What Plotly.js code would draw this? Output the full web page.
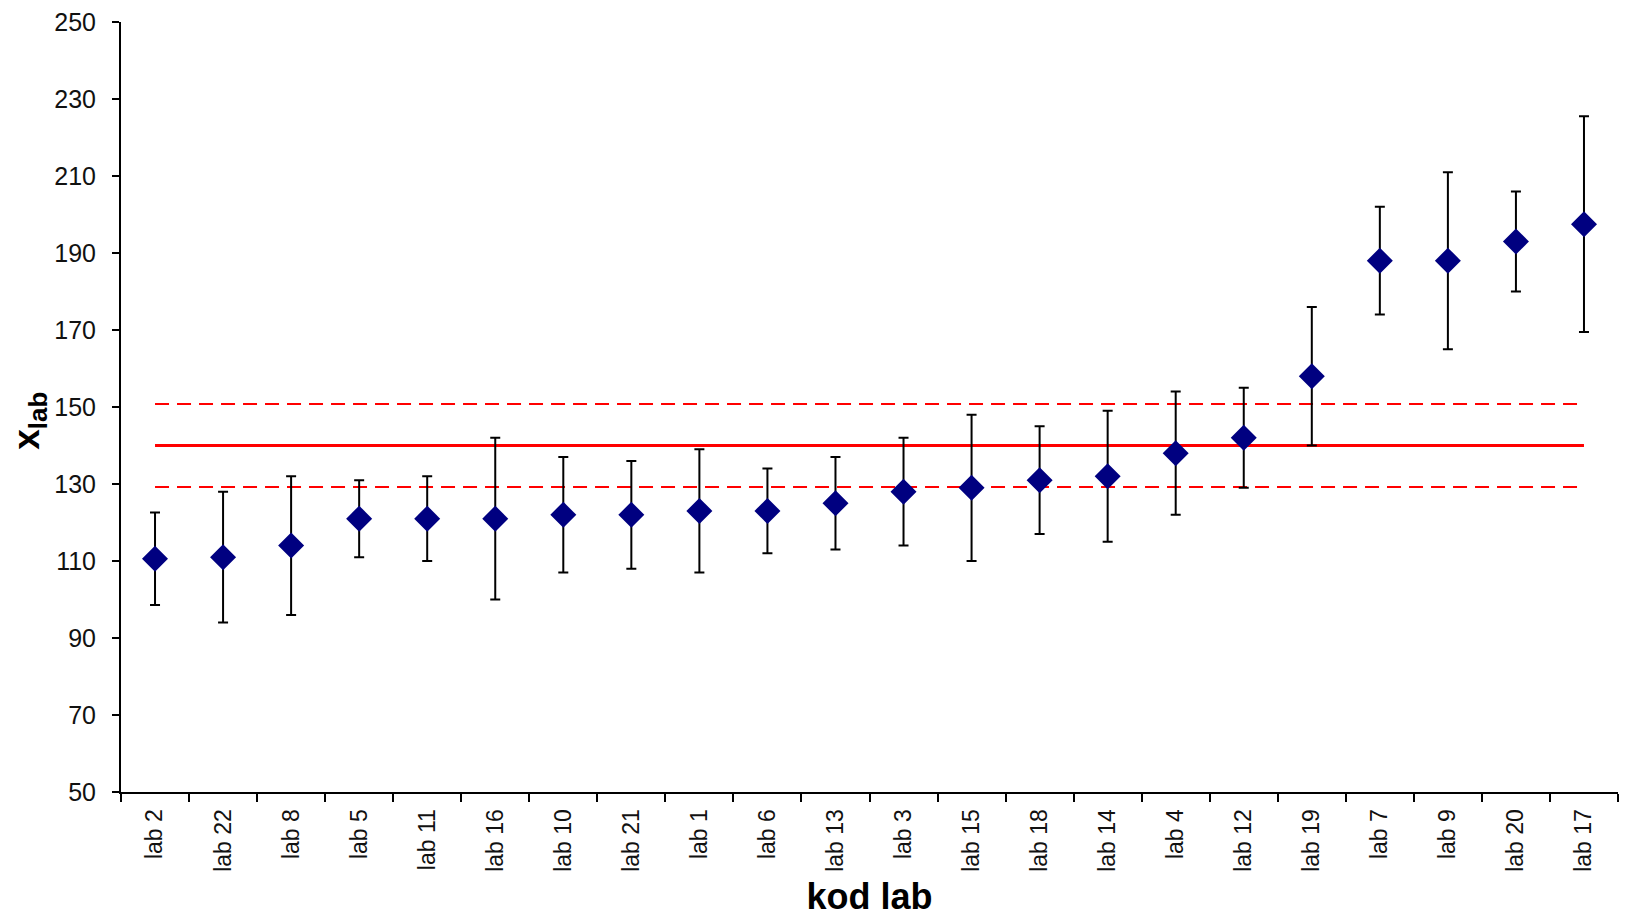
<!DOCTYPE html>
<html>
<head>
<meta charset="utf-8">
<script src="https://cdn.plot.ly/plotly-3.0.1.min.js"></script>
<style>
  html, body { margin: 0; padding: 0; background: #ffffff; }
  #chart { width: 1626px; height: 917px; }
</style>
</head>
<body>
<div id="chart"></div>
<script>
// Laboratory codes (sorted by result)
const labs = ["lab 2", "lab 22", "lab 8", "lab 5", "lab 11", "lab 16", "lab 10", "lab 21",
              "lab 1", "lab 6", "lab 13", "lab 3", "lab 15", "lab 18", "lab 14", "lab 4",
              "lab 12", "lab 19", "lab 7", "lab 9", "lab 20", "lab 17"];
// Reported values x_lab
const xlab = [110.6, 111, 114, 121, 121, 121, 122, 122,
              123, 123, 125, 128, 129, 131, 132, 138,
              142, 158, 188, 188, 193, 197.5];
// Expanded uncertainties (symmetric)
const unc = [12, 17, 18, 10, 11, 21, 15, 14,
             16, 11, 12, 14, 19, 14, 17, 16,
             13, 18, 14, 23, 13, 28];
// Assigned value and its limits
const assigned = 140;
const upperLimit = 150.8;
const lowerLimit = 129.2;

const ends = [labs[0], labs[labs.length - 1]];

const traces = [
  {
    x: ends, y: [upperLimit, upperLimit], type: "scatter", mode: "lines",
    line: { color: "#ff0000", width: 2, dash: "14px,8px" }, hoverinfo: "skip"
  },
  {
    x: ends, y: [lowerLimit, lowerLimit], type: "scatter", mode: "lines",
    line: { color: "#ff0000", width: 2, dash: "14px,8px" }, hoverinfo: "skip"
  },
  {
    x: ends, y: [assigned, assigned], type: "scatter", mode: "lines",
    line: { color: "#ff0000", width: 3 }, hoverinfo: "skip"
  },
  {
    x: labs, y: xlab, type: "scatter", mode: "markers",
    marker: { symbol: "diamond", size: 20, color: "#000080" },
    error_y: { type: "data", array: unc, visible: true, color: "#000000", thickness: 2, width: 5 }
  }
];

const layout = {
  width: 1626, height: 917,
  margin: { l: 121, r: 8, t: 22, b: 125 },
  paper_bgcolor: "#ffffff", plot_bgcolor: "#ffffff",
  showlegend: false,
  font: { family: "Liberation Sans, Arial, sans-serif", color: "#000000" },
  xaxis: {
    type: "category",
    categoryorder: "array",
    categoryarray: labs,
    range: [-0.5, labs.length - 0.5],
    tickson: "boundaries",
    ticks: "outside", ticklen: 8, tickwidth: 2, tickcolor: "#000000",
    showline: true, linecolor: "#000000", linewidth: 2,
    showgrid: false, zeroline: false,
    tickangle: -90,
    tickfont: { size: 23, color: "#111111" },
    ticklabelstandoff: 6,
    automargin: false,
    title: { text: "<b>kod lab</b>", font: { size: 36, color: "#000000" }, standoff: 14 }
  },
  yaxis: {
    range: [50, 250],
    tickvals: [50, 70, 90, 110, 130, 150, 170, 190, 210, 230, 250],
    ticks: "outside", ticklen: 7, tickwidth: 2, tickcolor: "#000000",
    showline: true, linecolor: "#000000", linewidth: 2,
    showgrid: false, zeroline: false,
    tickfont: { size: 25, color: "#111111" },
    ticklabelstandoff: 11,
    automargin: false
  },
  annotations: [
    {
      text: "<b>x<sub>lab</sub></b>",
      xref: "paper", yref: "paper",
      x: -0.0615, y: 0.482,
      xanchor: "center", yanchor: "middle",
      textangle: -90, showarrow: false,
      font: { size: 37, color: "#000000" }
    }
  ]
};

Plotly.newPlot("chart", traces, layout, { displayModeBar: false, staticPlot: true });
</script>
</body>
</html>
